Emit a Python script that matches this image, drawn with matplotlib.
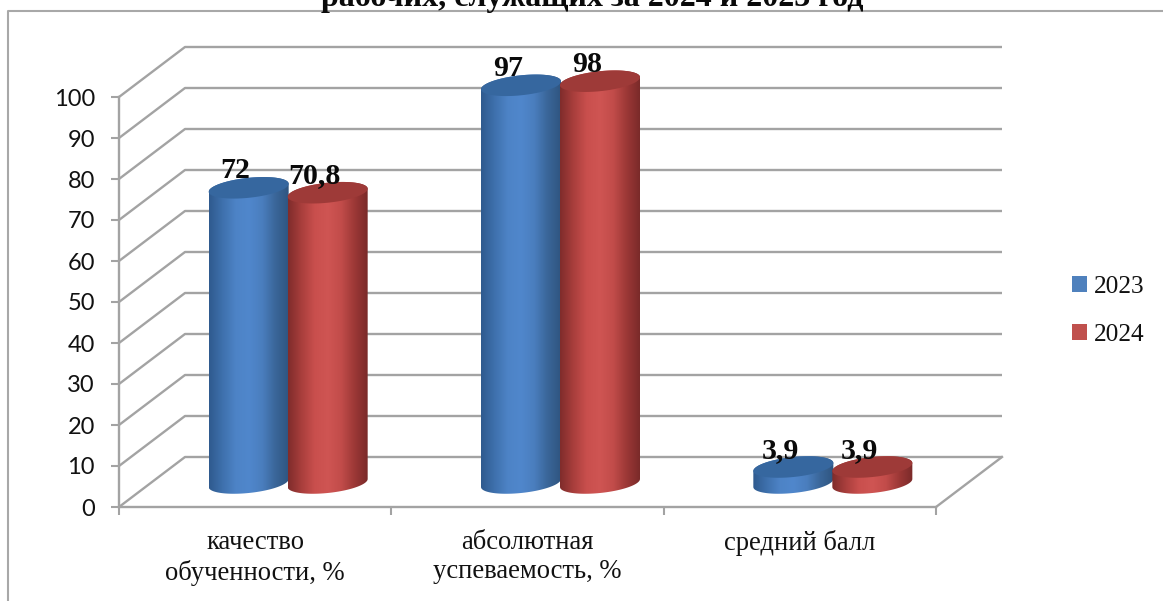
import numpy as np
import matplotlib
matplotlib.use("Agg")
import matplotlib.pyplot as plt
from matplotlib.colors import LinearSegmentedColormap
from matplotlib.lines import Line2D
from matplotlib.patches import PathPatch, Patch
from matplotlib.path import Path

categories = ["качество\nобученности, %", "абсолютная\nуспеваемость, %", "средний балл"]
series_names = ["2023", "2024"]
values_2023 = [72, 97, 3.9]
values_2024 = [70.8, 98, 3.9]
label_2023 = ["72", "97", "3,9"]
label_2024 = ["70,8", "98", "3,9"]
y_ticks = list(range(0, 101, 10))
title = "рабочих, служащих за 2024 и 2023 год"

W, H = 1163, 601
GRID = "#A3A3A3"
SERIF = "Liberation Serif"
TOP_PX = 30     # the axes reach above the 100 mark so that the tall cylinders are not cut

fig = plt.figure(figsize=(W / 100, H / 100), dpi=100, facecolor="white")
ax = fig.add_axes([119 / W, (H - 507) / H, 817 / W, (507 - TOP_PX) / H])
YMAX = (507 - TOP_PX) / 4.1
ax.set_xlim(0, 3)
ax.set_ylim(0, YMAX)
px_x = 3 / 817
px_y = 100 / 410
DX, DY = 66 * px_x, 50 * px_y          # oblique depth of the box

# wall and floor grid
for v in y_ticks:
    ax.plot([0, DX, 3 + DX], [v, v + DY, v + DY], color=GRID, lw=1.7,
            clip_on=False, zorder=1, solid_capstyle="butt")
ax.plot([3, 3 + DX], [0, DY], color=GRID, lw=1.7, clip_on=False, zorder=1)

for s in ("top", "right"):
    ax.spines[s].set_visible(False)
for s in ("left", "bottom"):
    ax.spines[s].set_color(GRID)
    ax.spines[s].set_linewidth(1.7)
    ax.spines[s].set_zorder(2)
ax.spines["left"].set_bounds(0, 100)

ax.set_yticks(y_ticks)
ax.set_yticklabels([str(v) for v in y_ticks], fontfamily="Lato", fontsize=17, color="#111111")
ax.tick_params(axis="y", length=5.8, width=1.5, color=GRID, pad=11.5)
ax.set_xticks([0, 1, 2, 3])
ax.set_xticklabels([])
ax.tick_params(axis="x", which="major", length=5.8, width=1.5, color=GRID)
ax.set_xticks([0.5, 1.5, 2.5], minor=True)
ax.set_xticklabels(categories, minor=True, fontfamily=SERIF, fontsize=19.2, color="#111111",
                   linespacing=1.24)
ax.tick_params(axis="x", which="minor", length=0, pad=16.5)

# cylinders
blue = LinearSegmentedColormap.from_list("b", ["#2F5A8E", "#3E70AC", "#4D83C6", "#5087CC", "#4A7EBE", "#3A6699", "#2F5580"])
red = LinearSegmentedColormap.from_list("r", ["#7F2C2B", "#A83E3C", "#C94F4D", "#CF5553", "#C24C4A", "#9C3836", "#7A2A29"])
grad = np.linspace(0, 1, 256)[None, :]

depth_x, depth_y = 33 * px_x, 24 * px_y
half_w = 40 * px_x
half_h = 10 * px_y
tilt = 4 * px_y
sep = 39.5 * px_x
t = np.linspace(0, 2 * np.pi, 121)


def ellipse(cx, cy, tt):
    return cx + half_w * np.cos(tt), cy + half_h * np.sin(tt) + tilt * np.cos(tt)


def cylinder(cx, val, cmap, top_color, z):
    y0, y1 = depth_y, depth_y + val
    lo_x, lo_y = ellipse(cx, y0, np.linspace(np.pi, 2 * np.pi, 61))
    up_x, up_y = ellipse(cx, y1, np.linspace(0, np.pi, 61))
    verts = np.column_stack([np.r_[lo_x, up_x], np.r_[lo_y, up_y]])
    verts = np.vstack([verts, verts[0]])
    clip = PathPatch(Path(verts, closed=True), transform=ax.transData, fc="none", ec="none")
    ax.add_patch(clip)
    im = ax.imshow(grad, cmap=cmap, aspect="auto", interpolation="bilinear", zorder=z,
                   extent=[cx - half_w, cx + half_w, y0 - 2 * half_h, y1 + 2 * half_h])
    im.set_clip_path(clip)
    tx, ty = ellipse(cx, y1, t)
    ax.fill(tx, ty, color=top_color, zorder=z + 0.1, clip_on=False, lw=0)


groups = [
    (values_2023, label_2023, -sep, blue, "#36679F"),
    (values_2024, label_2024, sep, red, "#9E3A38"),
]
for j, (vals, labs, off, cmap, top_c) in enumerate(groups):
    for i, (v, lab) in enumerate(zip(vals, labs)):
        cx = i + 0.5 + depth_x + off
        cylinder(cx, v, cmap, top_c, 3 + j)
        ax.annotate(lab, xy=(cx, depth_y + v), xytext=(-9.5, 6.8), textcoords="offset points",
                    ha="center", va="baseline", fontfamily=SERIF, fontweight="bold",
                    fontsize=21.5, color="#0A0A0A", zorder=6, annotation_clip=False)

ax.set_xlim(0, 3)
ax.set_ylim(0, YMAX)

# chart frame
fig.add_artist(Line2D([8 / W, 8 / W, 1], [0, (H - 11) / H, (H - 11) / H], color="#A8A8A8", lw=1.5))

# title, cut off by the image top
fig.text(592 / W, (H - 6) / H, title, ha="center", va="baseline", fontfamily=SERIF,
         fontweight="bold", fontsize=23, color="#0A0A0A")

# legend
handles = [Patch(fc="#4F81BD", ec="none"), Patch(fc="#C0504D", ec="none")]
fig.legend(handles, series_names, loc="center left", bbox_to_anchor=(1072 / W, (H - 311) / H),
           frameon=False, handlelength=0.6, handleheight=0.6, handletextpad=0.28,
           labelspacing=1.03, borderpad=0, borderaxespad=0,
           prop={"family": SERIF, "size": 18.3}, labelcolor="#111111")

fig.savefig("out.png", dpi=100)
